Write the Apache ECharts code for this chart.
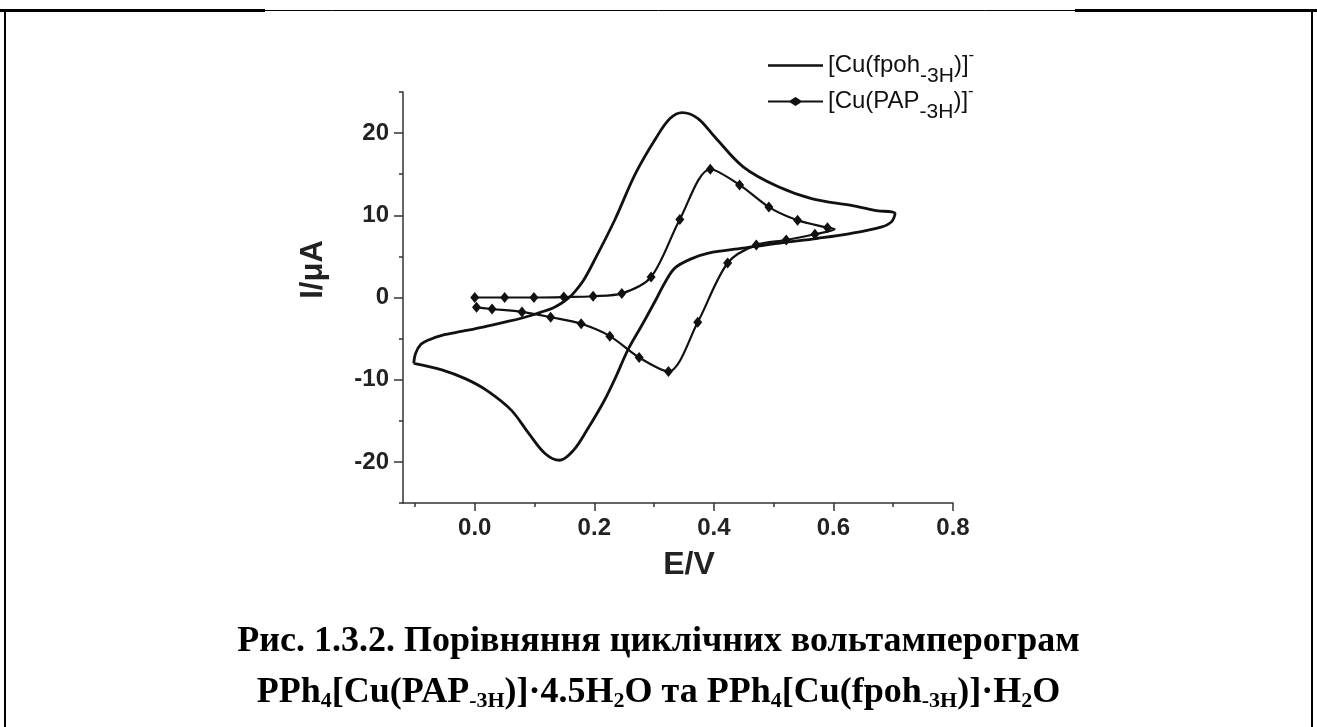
<!DOCTYPE html>
<html>
<head>
<meta charset="utf-8">
<script src="https://cdn.jsdelivr.net/npm/echarts@6/dist/echarts.min.js"></script>
<style>
  html, body { margin: 0; padding: 0; background: #fff; }
  #chart { width: 1317px; height: 727px; }
</style>
</head>
<body>
<div id="chart"></div>
<script>
// [Cu(fpoh-3H)]- : one closed cycle, starting at the left vertex, anodic branch first
const fpohE = [-0.102, -0.099, -0.09, -0.075, -0.055, -0.02, 0.014, 0.05, 0.084, 0.11, 0.13, 0.145, 0.156,
  0.165, 0.182, 0.2, 0.234, 0.269, 0.304, 0.327, 0.347, 0.373, 0.402, 0.449, 0.507, 0.565, 0.63, 0.669, 0.703,
  0.697, 0.681, 0.63, 0.574, 0.507, 0.449, 0.391, 0.362, 0.335, 0.318, 0.305, 0.281, 0.256, 0.237, 0.217,
  0.188, 0.165, 0.142, 0.118, 0.09, 0.061, 0.02, -0.015, -0.055, -0.102];
const fpohI = [-8.0, -6.8, -5.7, -5.1, -4.6, -4.1, -3.6, -3.0, -2.4, -1.8, -1.3, -0.7, -0.1,
  0.5, 2.1, 4.5, 9.4, 15.1, 19.5, 21.8, 22.5, 21.8, 19.5, 15.9, 13.5, 12.0, 11.2, 10.6, 10.2,
  9.2, 8.6, 7.8, 7.2, 6.6, 6.0, 5.4, 4.7, 3.6, 1.8, 0.0, -3.2, -6.4, -9.5, -12.5,
  -16.1, -18.6, -19.8, -19.0, -16.5, -13.7, -11.3, -9.9, -8.8, -8.0];

// [Cu(PAP-3H)]- : scan starts at 0 V, a marker every ~0.05 V
const papE = [0.0, 0.05, 0.099, 0.149, 0.198, 0.246, 0.295, 0.343, 0.394, 0.443, 0.492, 0.54, 0.59, 0.602,
  0.569, 0.521, 0.471, 0.423, 0.373, 0.324, 0.275, 0.226, 0.178, 0.127, 0.079, 0.029, 0.003];
const papI = [0.0, 0.0, 0.0, 0.05, 0.15, 0.5, 2.5, 9.5, 15.6, 13.7, 11.0, 9.4, 8.5, 8.3,
  7.7, 7.0, 6.4, 4.2, -3.0, -9.0, -7.3, -4.7, -3.2, -2.4, -1.75, -1.4, -1.2];
const papNoMarker = [13]; // switching point, drawn without a diamond

const xLabelValues = [0, 0.2, 0.4, 0.6, 0.8];
const xMinorValues = [-0.1, 0.1, 0.3, 0.5, 0.7];
const yLabelValues = [-20, -10, 0, 10, 20];
const yMinorValues = [-25, -15, -5, 5, 15, 25];

const SANS = "'Liberation Sans', Arial, sans-serif";
const SERIF = "'Liberation Serif', 'Times New Roman', serif";
const INK = "#111";
const AXIS = "#333";

const fpohData = fpohE.map((e, i) => [e, fpohI[i]]);
const papData = papE.map((e, i) =>
  papNoMarker.includes(i)
    ? { value: [e, papI[i]], symbol: "none" }
    : [e, papI[i]]
);

const legendNames = {
  fpoh: "[Cu(fpoh{sub|-3H})]{sup|-}",
  pap: "[Cu(PAP{sub|-3H})]{sup|-}",
};

const legendText = {
  fontFamily: SANS,
  fontSize: 24,
  color: INK,
  padding: [0, 0, 0, 0],
  rich: {
    sub: { fontFamily: SANS, fontSize: 21, color: INK, padding: [22, 0, 0, 0] },
    sup: { fontFamily: SANS, fontSize: 17, color: INK, padding: [0, 0, 20, 0] },
  },
};

function minorAxis(min, max, values, position) {
  return {
    type: "value",
    min,
    max,
    position,
    axisLine: { show: false, onZero: false },
    axisTick: { customValues: values, length: 4, lineStyle: { color: AXIS, width: 1.5 } },
    axisLabel: { show: false },
    splitLine: { show: false },
  };
}

const captionStyle = {
  fontFamily: SERIF,
  fontWeight: "bold",
  fontSize: 36,
  color: "#000",
  rich: {
    s: { fontFamily: SERIF, fontWeight: "bold", fontSize: 22, color: "#000", padding: [17, 0, 0, 0] },
  },
};

const chart = echarts.init(document.getElementById("chart"));

chart.setOption({
  animation: false,
  backgroundColor: "#fff",
  title: [
    {
      text: "Рис. 1.3.2. Порівняння циклічних вольтамперограм",
      left: "center",
      top: 619,
      textStyle: captionStyle,
    },
    {
      text: "PPh{s|4}[Cu(PAP{s|-3H})]·4.5H{s|2}O та PPh{s|4}[Cu(fpoh{s|-3H})]·H{s|2}O",
      left: "center",
      top: 668,
      textStyle: captionStyle,
    },
  ],
  legend: [
    {
      data: [{ name: "fpoh", icon: "rect" }],
      left: 763,
      top: 42,
      itemWidth: 55,
      itemHeight: 2.6,
      formatter: (name) => legendNames[name],
      textStyle: legendText,
      selectedMode: false,
    },
    {
      data: [{ name: "pap", icon: "path://M0,3.8 L24,3.8 L30,0 L36,3.8 L60,3.8 L60,6.2 L36,6.2 L30,10 L24,6.2 L0,6.2 Z" }],
      left: 763,
      top: 78,
      itemWidth: 55,
      itemHeight: 10,
      formatter: (name) => legendNames[name],
      textStyle: legendText,
      selectedMode: false,
    },
  ],
  grid: { left: 403, top: 92, right: 364, bottom: 224 },
  xAxis: [
    {
      type: "value",
      min: -0.12,
      max: 0.8,
      position: "bottom",
      axisLine: { onZero: false, lineStyle: { color: AXIS, width: 1.5 } },
      axisTick: { customValues: xLabelValues, length: 8, lineStyle: { color: AXIS, width: 1.5 } },
      axisLabel: {
        customValues: xLabelValues,
        formatter: (v) => v.toFixed(1),
        margin: 13,
        fontFamily: SANS,
        fontWeight: "bold",
        fontSize: 24,
        color: "#222",
      },
      splitLine: { show: false },
      name: "E/V",
      nameLocation: "middle",
      nameGap: 46,
      nameTextStyle: {
        fontFamily: SANS,
        fontWeight: "bold",
        fontSize: 32,
        color: "#222",
        padding: [0, 0, 0, 22],
      },
    },
    minorAxis(-0.12, 0.8, xMinorValues, "bottom"),
  ],
  yAxis: [
    {
      type: "value",
      min: -25,
      max: 25,
      position: "left",
      axisLine: { onZero: false, lineStyle: { color: AXIS, width: 1.5 } },
      axisTick: { customValues: yLabelValues, length: 9, lineStyle: { color: AXIS, width: 1.5 } },
      axisLabel: {
        customValues: yLabelValues,
        margin: 14,
        fontFamily: SANS,
        fontWeight: "bold",
        fontSize: 24,
        color: "#222",
      },
      splitLine: { show: false },
      name: "I/μA",
      nameLocation: "middle",
      nameGap: 74,
      nameTextStyle: {
        fontFamily: SANS,
        fontWeight: "bold",
        fontSize: 31,
        color: "#222",
        padding: [0, 0, 0, 56],
      },
    },
    minorAxis(-25, 25, yMinorValues, "left"),
  ],
  series: [
    {
      name: "fpoh",
      type: "line",
      data: fpohData,
      smooth: 0.35,
      showSymbol: false,
      lineStyle: { color: INK, width: 2.8 },
      itemStyle: { color: INK },
    },
    {
      name: "pap",
      type: "line",
      data: papData,
      smooth: 0.3,
      symbol: "diamond",
      symbolSize: [9, 11],
      lineStyle: { color: INK, width: 2.2 },
      itemStyle: { color: INK },
    },
  ],
  graphic: [
    // page frame around the figure
    { type: "line", shape: { x1: 5, y1: 10.5, x2: 1312, y2: 10.5 }, style: { stroke: "#000", lineWidth: 1 } },
    { type: "rect", shape: { x: 0, y: 9, width: 265, height: 3 }, style: { fill: "#000" } },
    { type: "rect", shape: { x: 1075, y: 9, width: 242, height: 3 }, style: { fill: "#000" } },
    { type: "line", shape: { x1: 5, y1: 10, x2: 5, y2: 727 }, style: { stroke: "#000", lineWidth: 2 } },
    { type: "line", shape: { x1: 1312, y1: 10, x2: 1312, y2: 727 }, style: { stroke: "#000", lineWidth: 2 } },
  ],
});
</script>
</body>
</html>
